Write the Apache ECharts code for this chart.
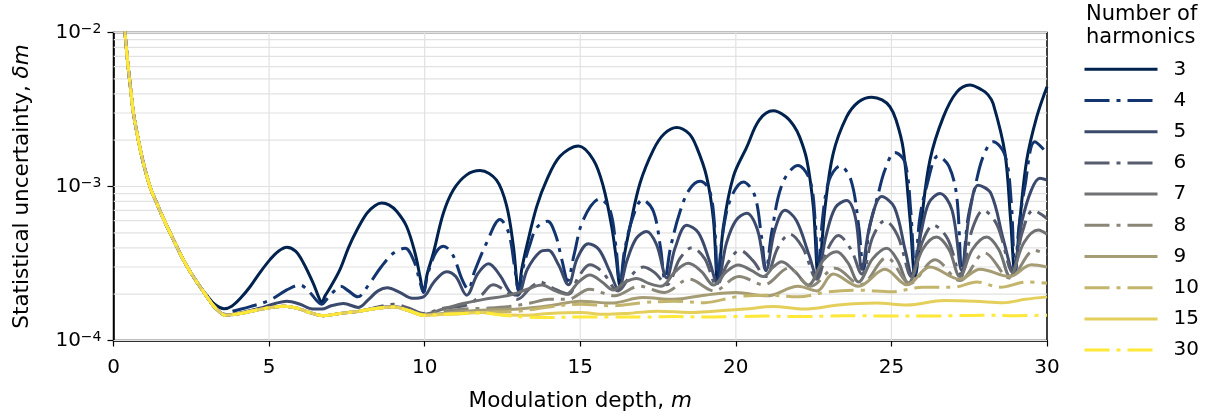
<!DOCTYPE html>
<html><head><meta charset="utf-8">
<script src="https://cdn.jsdelivr.net/npm/echarts@6/dist/echarts.min.js"></script>
<style>html,body{margin:0;padding:0;background:#fff}#c{width:1211px;height:418px}</style>
</head><body><div id="c"></div>
<script>
// ---- data: [modulation depth m, statistical uncertainty δm] ----
const descent = [[0.3,1.55e-2],[0.37,1.0e-2],[0.45,6.6e-3],[0.55,4.3e-3],[0.64,3.0e-3],[0.8,2.0e-3],[0.96,1.42e-3],[1.2,9.6e-4],[1.39,7.8e-4],[1.6,6.2e-4],[1.82,5.0e-4],[2.0,4.2e-4],[2.24,3.35e-4],[2.5,2.72e-4],[2.78,2.24e-4]];
const floorLow = [[3.0,1.93e-4],[3.21,1.68e-4],[3.4,1.54e-4],[3.58,1.46e-4],[4.0,1.49e-4],[4.5,1.56e-4],[5.0,1.63e-4],[5.5,1.67e-4],[5.9,1.62e-4],[6.3,1.52e-4],[6.74,1.45e-4],[7.3,1.5e-4],[7.9,1.55e-4]];
const h3 = [[3.0,1.96e-4],[3.25,1.72e-4],[3.55,1.61e-4],[3.8,1.67e-4],[4.1,1.9e-4],[4.4,2.25e-4],[4.7,2.75e-4],[5.03,3.35e-4],[5.3,3.8e-4],[5.57,4.03e-4],[5.85,3.8e-4],[6.1,3.2e-4],[6.42,2.35e-4],[6.6,1.9e-4],[6.69,1.77e-4],[6.8,1.95e-4],[6.96,2.2e-4],[7.28,2.9e-4],[7.55,4.0e-4],[7.82,5.2e-4],[8.14,6.7e-4],[8.4,7.5e-4],[8.62,7.8e-4],[8.85,7.6e-4],[9.1,6.9e-4],[9.42,5.5e-4],[9.69,3.7e-4],[9.85,2.6e-4],[9.96,2.07e-4],[10.08,2.7e-4],[10.28,3.7e-4],[10.6,6.7e-4],[10.92,9.5e-4],[11.35,1.19e-3],[11.78,1.27e-3],[12.31,1.1e-3],[12.64,7.4e-4],[12.85,4.1e-4],[13.02,2.1e-4],[13.12,2.9e-4],[13.28,4.1e-4],[13.6,7.4e-4],[13.92,1.1e-3],[14.35,1.57e-3],[14.94,1.83e-3],[15.42,1.49e-3],[15.74,1.0e-3],[16.01,5.5e-4],[16.15,3.5e-4],[16.28,2.25e-4],[16.42,3.6e-4],[16.6,5.5e-4],[16.92,1.05e-3],[17.35,1.73e-3],[17.7,2.2e-3],[18.1,2.42e-3],[18.5,2.2e-3],[18.74,1.8e-3],[19.06,1.16e-3],[19.28,6.1e-4],[19.42,2.35e-4],[19.6,5.5e-4],[19.92,1.16e-3],[20.35,1.8e-3],[20.75,2.7e-3],[21.2,3.1e-3],[21.6,2.85e-3],[21.85,2.5e-3],[22.05,2.1e-3],[22.28,1.49e-3],[22.49,7.4e-4],[22.65,2.6e-4],[22.87,7.4e-4],[23.13,1.64e-3],[23.56,2.83e-3],[23.95,3.55e-3],[24.37,3.8e-3],[24.7,3.65e-3],[24.95,3.3e-3],[25.15,2.7e-3],[25.38,1.75e-3],[25.6,6.1e-4],[25.76,2.6e-4],[25.97,6.1e-4],[26.24,1.49e-3],[26.67,2.83e-3],[27.1,4.1e-3],[27.52,4.56e-3],[27.9,4.25e-3],[28.1,3.95e-3],[28.27,3.45e-3],[28.65,1.64e-3],[28.83,6.1e-4],[28.97,2.75e-4],[29.13,6.1e-4],[29.35,1.49e-3],[29.67,2.83e-3],[30,4.45e-3]];
const h4 = [[3.0,1.93e-4],[3.21,1.68e-4],[3.4,1.54e-4],[3.58,1.48e-4],[3.74,1.53e-4],[4.39,1.66e-4],[5.03,1.83e-4],[5.57,2.13e-4],[5.99,2.29e-4],[6.31,2.05e-4],[6.55,1.8e-4],[6.69,1.72e-4],[6.85,1.85e-4],[7.1,2.1e-4],[7.3,2.25e-4],[7.55,2.1e-4],[7.85,1.92e-4],[8.2,2.3e-4],[8.6,3.0e-4],[9.0,3.7e-4],[9.37,3.97e-4],[9.65,3.3e-4],[9.85,2.4e-4],[9.96,2.05e-4],[10.1,2.7e-4],[10.35,3.7e-4],[10.6,4.1e-4],[10.9,3.6e-4],[11.2,2.5e-4],[11.4,2.15e-4],[11.6,2.8e-4],[11.99,4.3e-4],[12.42,6.1e-4],[12.7,5.0e-4],[12.9,2.9e-4],[13.02,2.1e-4],[13.15,2.9e-4],[13.4,4.3e-4],[13.6,5.4e-4],[13.95,5.95e-4],[14.2,4.9e-4],[14.4,3.4e-4],[14.6,2.45e-4],[14.8,3.6e-4],[15.1,6.1e-4],[15.63,8.3e-4],[15.96,7.0e-4],[16.15,4.0e-4],[16.28,2.25e-4],[16.42,3.8e-4],[16.7,6.4e-4],[17.0,8.2e-4],[17.35,6.9e-4],[17.58,4.0e-4],[17.72,2.5e-4],[17.9,4.0e-4],[18.2,6.8e-4],[18.5,9.5e-4],[18.85,1.08e-3],[19.15,9.5e-4],[19.32,5.5e-4],[19.42,2.35e-4],[19.55,4.5e-4],[19.82,8.2e-4],[20.24,1.07e-3],[20.6,8.8e-4],[20.82,4.8e-4],[20.97,2.85e-4],[21.15,5.0e-4],[21.5,1.05e-3],[22.0,1.37e-3],[22.38,1.1e-3],[22.55,6.0e-4],[22.65,2.6e-4],[22.78,6.0e-4],[23.0,1.1e-3],[23.35,1.36e-3],[23.7,1.1e-3],[23.95,5.5e-4],[24.1,2.9e-4],[24.3,5.5e-4],[24.53,8.2e-4],[24.79,1.28e-3],[25.11,1.66e-3],[25.43,1.45e-3],[25.62,7.0e-4],[25.76,2.65e-4],[25.9,6.0e-4],[26.13,1.0e-3],[26.5,1.58e-3],[26.85,1.35e-3],[27.1,8.6e-4],[27.27,2.65e-4],[27.45,6.0e-4],[27.69,1.0e-3],[27.95,1.57e-3],[28.27,1.95e-3],[28.65,1.6e-3],[28.85,8.0e-4],[28.97,2.75e-4],[29.1,5.5e-4],[29.29,1.0e-3],[29.61,1.95e-3],[30,1.65e-3]];
const h5 = [[3.0,1.93e-4],[3.21,1.68e-4],[3.4,1.54e-4],[3.58,1.46e-4],[4.0,1.5e-4],[4.7,1.62e-4],[5.2,1.74e-4],[5.57,1.8e-4],[6.0,1.72e-4],[6.4,1.6e-4],[6.69,1.6e-4],[7.0,1.68e-4],[7.39,1.74e-4],[7.87,1.64e-4],[8.2,1.85e-4],[8.5,2.1e-4],[8.8,2.2e-4],[9.2,2.05e-4],[9.6,1.88e-4],[9.96,1.92e-4],[10.3,2.4e-4],[10.7,2.8e-4],[11.0,2.6e-4],[11.35,1.97e-4],[11.7,2.7e-4],[12.05,3.15e-4],[12.42,2.65e-4],[12.75,2.05e-4],[12.98,1.97e-4],[13.3,2.9e-4],[13.7,3.75e-4],[13.97,3.85e-4],[14.3,3.1e-4],[14.62,2.3e-4],[14.9,3.4e-4],[15.26,4.25e-4],[15.6,3.9e-4],[15.95,2.8e-4],[16.22,2.15e-4],[16.5,3.3e-4],[16.8,4.6e-4],[17.13,5.1e-4],[17.45,4.2e-4],[17.78,2.55e-4],[18.05,4.0e-4],[18.42,5.6e-4],[18.8,5.0e-4],[19.15,3.3e-4],[19.4,2.35e-4],[19.7,4.3e-4],[20.0,6.0e-4],[20.35,6.7e-4],[20.7,5.2e-4],[20.97,2.85e-4],[21.25,5.2e-4],[21.58,7.0e-4],[21.95,6.0e-4],[22.35,3.6e-4],[22.6,2.6e-4],[22.9,4.8e-4],[23.2,7.3e-4],[23.56,8.1e-4],[23.85,6.2e-4],[24.05,2.9e-4],[24.3,5.5e-4],[24.69,8.6e-4],[25.1,7.3e-4],[25.45,3.8e-4],[25.65,2.7e-4],[25.95,5.0e-4],[26.2,7.8e-4],[26.56,9.0e-4],[26.95,7.0e-4],[27.26,2.85e-4],[27.5,6.5e-4],[27.79,1.02e-3],[28.2,9.0e-4],[28.6,4.5e-4],[28.9,2.85e-4],[29.2,6.0e-4],[29.5,9.5e-4],[29.77,1.13e-3],[30,1.1e-3]];
const h6 = [[8.5,1.65e-4],[9.0,1.72e-4],[9.5,1.62e-4],[9.96,1.5e-4],[10.6,1.62e-4],[11.35,1.7e-4],[11.8,1.95e-4],[12.2,2.3e-4],[12.6,2.1e-4],[12.98,1.85e-4],[13.4,2.2e-4],[13.7,2.4e-4],[14.1,2.2e-4],[14.62,2.0e-4],[14.95,2.6e-4],[15.31,3.1e-4],[15.7,2.8e-4],[16.22,2.1e-4],[16.6,2.6e-4],[17.03,3.0e-4],[17.4,2.75e-4],[17.78,2.3e-4],[18.2,3.4e-4],[18.59,4.0e-4],[19.0,3.4e-4],[19.38,2.3e-4],[19.75,3.2e-4],[20.13,3.85e-4],[20.55,3.3e-4],[20.95,2.6e-4],[21.35,4.0e-4],[21.74,4.9e-4],[22.15,4.0e-4],[22.6,2.5e-4],[22.95,3.9e-4],[23.29,4.8e-4],[23.7,3.9e-4],[24.05,2.7e-4],[24.4,4.7e-4],[24.79,6.0e-4],[25.2,4.8e-4],[25.65,2.6e-4],[26.0,4.4e-4],[26.35,5.6e-4],[26.8,4.6e-4],[27.22,2.7e-4],[27.6,5.3e-4],[27.95,7.0e-4],[28.4,5.6e-4],[28.9,2.75e-4],[29.2,5.0e-4],[29.56,7.0e-4],[30,6.2e-4]];
const h7 = [[8.5,1.63e-4],[9.0,1.66e-4],[9.5,1.58e-4],[9.96,1.48e-4],[10.6,1.6e-4],[11.24,1.74e-4],[11.9,1.85e-4],[12.74,1.97e-4],[13.3,2.15e-4],[13.76,2.29e-4],[14.2,2.1e-4],[14.55,2.0e-4],[14.95,2.4e-4],[15.31,2.66e-4],[15.7,2.4e-4],[16.06,2.13e-4],[16.45,2.4e-4],[16.81,2.53e-4],[17.2,2.35e-4],[17.6,2.25e-4],[18.05,2.8e-4],[18.47,3.17e-4],[18.9,2.8e-4],[19.28,2.29e-4],[19.7,2.8e-4],[20.08,3.09e-4],[20.5,2.85e-4],[20.88,2.6e-4],[21.2,3.0e-4],[21.47,3.25e-4],[21.9,2.8e-4],[22.33,2.29e-4],[22.8,3.3e-4],[23.24,3.77e-4],[23.6,3.2e-4],[23.94,2.4e-4],[24.4,3.4e-4],[24.85,3.97e-4],[25.2,3.3e-4],[25.54,2.35e-4],[26.0,3.9e-4],[26.45,4.7e-4],[26.85,3.9e-4],[27.2,2.6e-4],[27.6,3.9e-4],[28.06,4.7e-4],[28.45,3.9e-4],[28.81,2.6e-4],[29.25,4.3e-4],[29.72,5.22e-4],[30,4.9e-4]];
const h8 = [[8.5,1.62e-4],[9.0,1.65e-4],[9.5,1.56e-4],[9.96,1.47e-4],[10.6,1.55e-4],[11.3,1.6e-4],[12.0,1.62e-4],[12.7,1.66e-4],[13.4,1.75e-4],[14.0,1.85e-4],[14.6,1.85e-4],[15.3,2.15e-4],[16.1,1.95e-4],[16.9,2.25e-4],[17.7,2.05e-4],[18.5,2.5e-4],[19.3,2.1e-4],[20.1,2.6e-4],[20.9,2.3e-4],[21.7,2.95e-4],[22.4,2.25e-4],[23.2,2.95e-4],[24.0,2.3e-4],[24.85,3.45e-4],[25.6,2.35e-4],[26.4,3.35e-4],[27.2,2.45e-4],[28.0,3.7e-4],[28.8,2.55e-4],[29.6,3.85e-4],[30,3.6e-4]];
const h9 = [[8.5,1.62e-4],[9.0,1.65e-4],[9.5,1.56e-4],[9.96,1.46e-4],[10.6,1.5e-4],[11.3,1.55e-4],[12.0,1.58e-4],[13.0,1.6e-4],[14.0,1.68e-4],[15.0,1.8e-4],[16.0,1.75e-4],[17.0,1.9e-4],[18.0,1.85e-4],[19.0,1.97e-4],[20.0,2.05e-4],[21.0,1.95e-4],[22.0,2.25e-4],[22.6,2.1e-4],[23.13,2.7e-4],[23.94,2.25e-4],[24.79,2.9e-4],[25.5,2.3e-4],[26.24,3.0e-4],[27.2,2.5e-4],[27.85,2.9e-4],[28.8,2.6e-4],[29.5,3.1e-4],[30,3.0e-4]];
const h10 = [[8.5,1.62e-4],[9.0,1.65e-4],[9.5,1.56e-4],[9.96,1.46e-4],[10.6,1.48e-4],[11.3,1.5e-4],[12.0,1.53e-4],[13.0,1.55e-4],[14.0,1.65e-4],[15.0,1.72e-4],[16.0,1.68e-4],[17.0,1.76e-4],[18.0,1.8e-4],[19.0,1.76e-4],[20.0,1.92e-4],[21.0,1.97e-4],[22.0,1.92e-4],[23.0,2.07e-4],[24.0,2.12e-4],[25.0,2.07e-4],[26.0,2.22e-4],[27.0,2.22e-4],[27.74,2.4e-4],[28.5,2.22e-4],[29.35,2.4e-4],[30,2.35e-4]];
const h15 = [[8.5,1.62e-4],[9.0,1.65e-4],[9.5,1.56e-4],[9.96,1.46e-4],[10.6,1.48e-4],[11.24,1.5e-4],[11.8,1.52e-4],[12.5,1.47e-4],[13.3,1.46e-4],[14.0,1.5e-4],[15.0,1.52e-4],[15.8,1.48e-4],[16.5,1.5e-4],[17.5,1.55e-4],[18.5,1.52e-4],[19.3,1.55e-4],[20.3,1.6e-4],[21.2,1.66e-4],[22.2,1.6e-4],[23.3,1.7e-4],[24.5,1.75e-4],[25.5,1.7e-4],[26.7,1.82e-4],[27.7,1.8e-4],[28.6,1.76e-4],[29.3,1.85e-4],[30,1.92e-4]];
const h30 = [[8.5,1.62e-4],[9.0,1.65e-4],[9.5,1.56e-4],[9.96,1.46e-4],[10.6,1.48e-4],[11.24,1.5e-4],[11.8,1.51e-4],[12.5,1.46e-4],[13.2,1.42e-4],[14,1.41e-4],[15,1.42e-4],[16,1.42e-4],[17,1.42e-4],[18,1.43e-4],[19,1.42e-4],[20,1.43e-4],[21,1.44e-4],[22,1.43e-4],[23,1.44e-4],[24,1.45e-4],[25,1.44e-4],[26,1.44e-4],[27,1.45e-4],[28,1.46e-4],[29,1.45e-4],[30,1.46e-4]];
const harmonics = ['3','4','5','6','7','8','9','10','15','30'];
const colors = ['#00224e','#123570','#3b496c','#575d6d','#707173','#8a8779','#a69d75','#c4b56c','#e4cf5b','#fee838'];
const xTicks = [0,5,10,15,20,25,30];
const yMajor = [1e-4,1e-3,1e-2];
const yMinor = [2e-4,3e-4,4e-4,5e-4,6e-4,7e-4,8e-4,9e-4,2e-3,3e-3,4e-3,5e-3,6e-3,7e-3,8e-3,9e-3];

const tails = [h3,h4,h5,h6,h7,h8,h9,h10,h15,h30];
const full = tails.map((t,i)=> i<=2 ? descent.concat(t) : descent.concat(floorLow, t));
const DASHDOT = [25,7,4,7];
const FONT = 'DejaVu Sans';
const chart = echarts.init(document.getElementById('c'), null, {renderer:'canvas'});

const series = [];
yMajor.concat(yMinor).forEach(v=>series.push({type:'line', data:[[0,v],[30,v]], symbol:'none', silent:true, z:1,
  lineStyle:{color:'#e2e2e2', width:1.2}, emphasis:{disabled:true}}));
xTicks.slice(1,-1).forEach(v=>series.push({type:'line', data:[[v,1e-4],[v,1e-2]], symbol:'none', silent:true, z:1,
  lineStyle:{color:'#e2e2e2', width:1.2}, emphasis:{disabled:true}}));
const tickLen = 0.115;
yMinor.forEach(v=>series.push({type:'line', data:[[-tickLen,v],[0,v]], symbol:'none', silent:true, clip:false, z:1,
  lineStyle:{color:'#000', width:1}, emphasis:{disabled:true}}));
harmonics.forEach((h,i)=>series.push({
  name: h, type:'line', data: full[i], showSymbol:false, symbol:'none', legendIcon:'none',
  smooth:0.35, z: 3+i, clip:true,
  lineStyle:{color:colors[i], width:3, type: (i%2===1)? DASHDOT : 'solid', cap:'butt'},
  itemStyle:{color:colors[i]}, emphasis:{disabled:true}
}));

chart.setOption({
  animation:false,
  textStyle:{fontFamily:FONT},
  title:{text:'Number of\nharmonics', left:1086, top:3, padding:0,
    textStyle:{fontFamily:FONT, fontSize:21, fontWeight:'normal', color:'#000', lineHeight:23}},
  legend:{orient:'vertical', left:1083, top:59.3, itemWidth:73, itemHeight:20, itemGap:11.2,
    data:harmonics, selectedMode:false, padding:0,
    itemStyle:{opacity:0, borderWidth:0},
    lineStyle:{width:3},
    textStyle:{fontFamily:FONT, fontSize:20, color:'#000', lineHeight:20, padding:[0,0,0,11]}},
  grid:{left:113.5, right:164, top:32.5, bottom:77.5, show:true, borderColor:'#000', borderWidth:1.5, backgroundColor:'transparent'},
  xAxis:{type:'value', min:0, max:30, interval:5,
    name:'Modulation depth, {i|m}', nameLocation:'middle', nameGap:50,
    nameTextStyle:{fontFamily:FONT, fontSize:21.5, color:'#000', rich:{i:{fontStyle:'italic', fontSize:21.5, fontFamily:FONT}}},
    axisLine:{show:true, lineStyle:{color:'#000', width:1.5}},
    axisTick:{show:true, length:6, inside:false, lineStyle:{color:'#000', width:1.2}},
    axisLabel:{fontFamily:FONT, fontSize:20, color:'#000', margin:17},
    splitLine:{show:false}},
  yAxis:{type:'log', logBase:10, min:1e-4, max:1e-2,
    name:'Statistical uncertainty, {i|δm}', nameLocation:'middle', nameGap:80,
    nameTextStyle:{fontFamily:FONT, fontSize:21.5, color:'#000', rich:{i:{fontStyle:'italic', fontSize:21.5, fontFamily:FONT}}},
    axisLine:{show:true, lineStyle:{color:'#000', width:1.5}},
    axisTick:{show:true, length:6, lineStyle:{color:'#000', width:1.2}},
    axisLabel:{color:'#000', margin:12, formatter:v=>'{b|10}{s|−'+Math.round(-Math.log10(v))+'}',
      rich:{b:{fontFamily:FONT, fontSize:20, color:'#000'}, s:{fontFamily:FONT, fontSize:14, color:'#000', verticalAlign:'top', padding:[0,0,6,0]}}},
    splitLine:{show:false}},
  series: series
});
</script></body></html>
